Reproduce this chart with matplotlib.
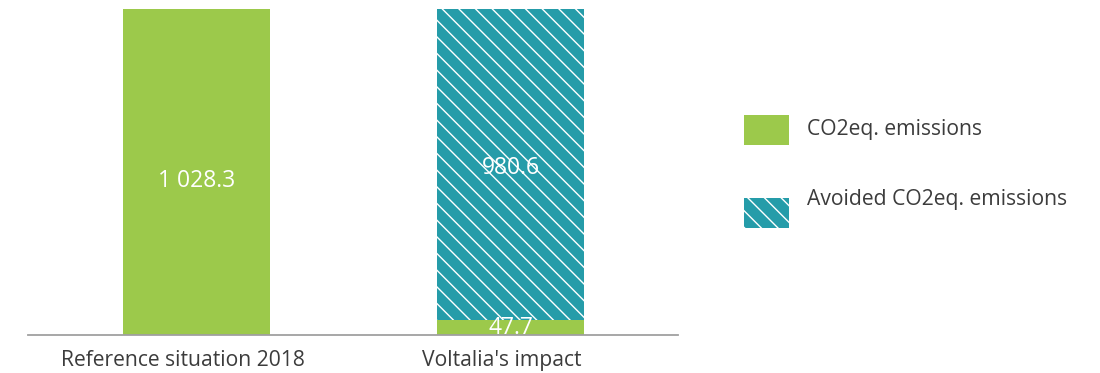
import matplotlib
matplotlib.use("Agg")
import matplotlib.pyplot as plt
from matplotlib.patches import Rectangle
from matplotlib.transforms import ScaledTranslation

categories = ["Reference situation 2018", "Voltalia's impact"]
emissions = [1028.3, 47.7]
avoided = [0.0, 980.6]
emission_labels = ["1 028.3", "47.7"]
avoided_labels = ["", "980.6"]
legend_labels = ["CO2eq. emissions", "Avoided CO2eq. emissions"]

GREEN = "#9cc94b"
TEAL = "#259ca9"
TEXT = "#3c3c3c"
HATCH = "\\\\"

plt.rcParams["font.family"] = ["Open Sans", "DejaVu Sans"]
plt.rcParams["hatch.linewidth"] = 1.0

fig = plt.figure(figsize=(11, 3.73), dpi=100)
ax = fig.add_axes([28 / 1100, 38 / 373, 650 / 1100, 326 / 373])

x = list(range(len(categories)))
width = 0.468
ax.bar(x, emissions, width=width, color=GREEN, linewidth=0)
ax.bar(x, avoided, width=width, bottom=emissions, color=TEAL,
       edgecolor="white", linewidth=0, hatch=HATCH)

# value labels (small pixel nudges to sit like the original layout)
emission_nudge = [-9, -1]
for xi, e, lab, dy in zip(x, emissions, emission_labels, emission_nudge):
    ax.annotate(lab, (xi, e / 2), xytext=(0, dy * 0.72), textcoords="offset points",
                ha="center", va="center", color="white", fontsize=16.5)
for xi, e, a, lab in zip(x, emissions, avoided, avoided_labels):
    if lab:
        ax.annotate(lab, (xi, e + a / 2), xytext=(0, -4 * 0.72),
                    textcoords="offset points", ha="center", va="center",
                    color="white", fontsize=16.5)

ax.set_xlim(-0.537, 1.533)
ax.set_ylim(0, 1028.3)
ax.set_xticks(x)
ax.set_xticklabels(categories, fontsize=15.2, color=TEXT)
ax.tick_params(axis="x", length=0, pad=11)
label_shift_px = [-14, -9]
for lbl, dx in zip(ax.get_xticklabels(), label_shift_px):
    lbl.set_transform(lbl.get_transform() + ScaledTranslation(dx / 100, 0, fig.dpi_scale_trans))
ax.set_yticks([])
for side in ["top", "right", "left"]:
    ax.spines[side].set_visible(False)
ax.spines["bottom"].set_color("#a0a0a0")
ax.spines["bottom"].set_linewidth(1.3)

# legend
H = 373
fig.add_artist(Rectangle((744 / 1100, (H - 145) / H), 45 / 1100, 30 / H,
                         transform=fig.transFigure, facecolor=GREEN, linewidth=0))
fig.add_artist(Rectangle((744 / 1100, (H - 228) / H), 45 / 1100, 30 / H,
                         transform=fig.transFigure, facecolor=TEAL,
                         edgecolor="white", linewidth=0, hatch=HATCH))
fig.text(807 / 1100, (H - 129) / H, legend_labels[0], ha="left", va="center",
         fontsize=15.2, color=TEXT)
fig.text(807 / 1100, (H - 199) / H, legend_labels[1], ha="left", va="center",
         fontsize=15.2, color=TEXT)

fig.savefig("out.png", dpi=100)
